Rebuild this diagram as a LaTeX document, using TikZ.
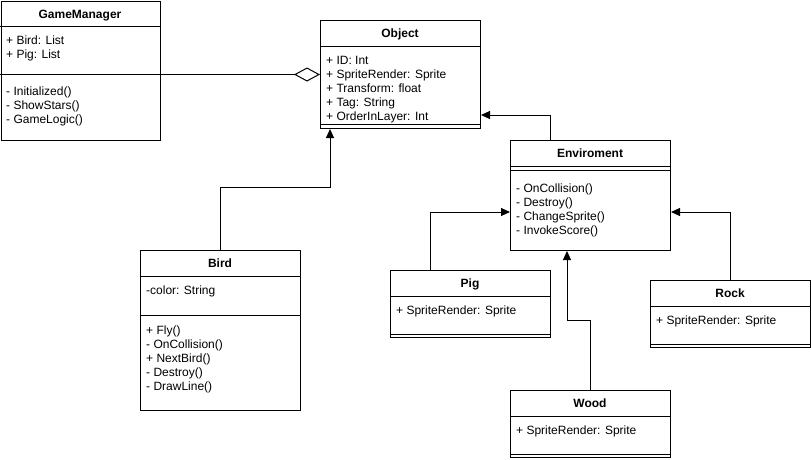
\documentclass[tikz,border=0pt]{standalone}
\usepackage{fontspec}
\setmainfont{Liberation Sans}
\usetikzlibrary{arrows.meta}

\tikzset{
  classbox/.style={draw, line width=1pt, anchor=north west, minimum width=160pt, inner sep=0pt},
  classname/.style={font=\fontsize{12}{14}\selectfont\bfseries, inner sep=0pt, text height=8.6pt, text depth=0pt},
  member/.style={anchor=west, inner sep=0pt, text height=8.6pt, text depth=0pt, xshift=2pt},
  sep/.style={line width=1pt},
  inherit/.style={line width=1pt, -{Triangle[length=9pt,width=8pt]}},
  aggregate/.style={line width=1pt, -{Diamond[open,length=26pt,width=14pt]}}
}

\begin{document}
\begin{tikzpicture}[x=1pt, y=-1pt, font=\fontsize{12}{14}\selectfont]
    \useasboundingbox (0,0) rectangle (811,459);

    % GameManager
    \node[classbox, minimum width=159pt, minimum height=139pt] (gm) at (0.5,0.5) {};
    \draw[sep] (0,26) -- (160,26) (0,74) -- (160,74);
    \node[classname] (gmT) at (80,14) {GameManager};
    \node[member] (gmA1) at (4,40) {+ Bird: List};
    \node[member] (gmA2) at (4,54) {+ Pig: List};
    \node[member] (gmM1) at (4,91) {- Initialized()};
    \node[member] (gmM2) at (4,105) {- ShowStars()};
    \node[member] (gmM3) at (4,119) {- GameLogic()};

    % Object
    \node[classbox, minimum height=108pt] (obj) at (320,20) {};
    \draw[sep] (320,46) -- (480,46) (320,124) -- (480,124);
    \node[classname] (objT) at (400,33) {Object};
    \node[member] (objA1) at (324,60) {+ ID: Int};
    \node[member] (objA2) at (324,74) {+ SpriteRender: Sprite};
    \node[member] (objA3) at (324,88) {+ Transform: float};
    \node[member] (objA4) at (324,102) {+ Tag: String};
    \node[member] (objA5) at (324,116) {+ OrderInLayer: Int};

    % Enviroment
    \node[classbox, minimum height=110pt] (env) at (510,140) {};
    \draw[sep] (510,166) -- (670,166) (510,170) -- (670,170);
    \node[classname] (envT) at (590,153) {Enviroment};
    \node[member] (envM1) at (514,188) {- OnCollision()};
    \node[member] (envM2) at (514,202) {- Destroy()};
    \node[member] (envM3) at (514,216) {- ChangeSprite()};
    \node[member] (envM4) at (514,230) {- InvokeScore()};

    % Bird
    \node[classbox, minimum height=160pt] (bird) at (140,250) {};
    \draw[sep] (140,276) -- (300,276) (140,315) -- (300,315);
    \node[classname] (birdT) at (220,263) {Bird};
    \node[member] (birdA1) at (144,290) {-color: String};
    \node[member] (birdM1) at (144,330) {+ Fly()};
    \node[member] (birdM2) at (144,344) {- OnCollision()};
    \node[member] (birdM3) at (144,358) {+ NextBird()};
    \node[member] (birdM4) at (144,372) {- Destroy()};
    \node[member] (birdM5) at (144,386) {- DrawLine()};

    % Pig
    \node[classbox, minimum height=67pt] (pig) at (390,270) {};
    \draw[sep] (390,296) -- (550,296) (390,334) -- (550,334);
    \node[classname] (pigT) at (470,283) {Pig};
    \node[member] (pigA1) at (394,310) {+ SpriteRender: Sprite};

    % Rock
    \node[classbox, minimum height=67pt] (rock) at (650,280) {};
    \draw[sep] (650,306) -- (810,306) (650,344) -- (810,344);
    \node[classname] (rockT) at (730,293) {Rock};
    \node[member] (rockA1) at (654,320) {+ SpriteRender: Sprite};

    % Wood
    \node[classbox, minimum height=67pt] (wood) at (510,390) {};
    \draw[sep] (510,416) -- (670,416) (510,454) -- (670,454);
    \node[classname] (woodT) at (590,403) {Wood};
    \node[member] (woodA1) at (514,430) {+ SpriteRender: Sprite};

    % relations
    \draw[aggregate] (gm.east |- obj.west) -- (obj.west);
    \draw[inherit] ([xshift=40]env.north west) |- ([yshift=-95]obj.north east);
    \draw[inherit] (bird.north) -- ++(0,-63) -| ([xshift=10]obj.south west);
    \draw[inherit] ([xshift=40]pig.north west) |- ([yshift=-72]env.north west);
    \draw[inherit] (rock.north) |- ([yshift=-72]env.north east);
    \draw[inherit] (wood.north) -- ++(0,-70) -| ([xshift=57]env.south west);
\end{tikzpicture}
\end{document}
